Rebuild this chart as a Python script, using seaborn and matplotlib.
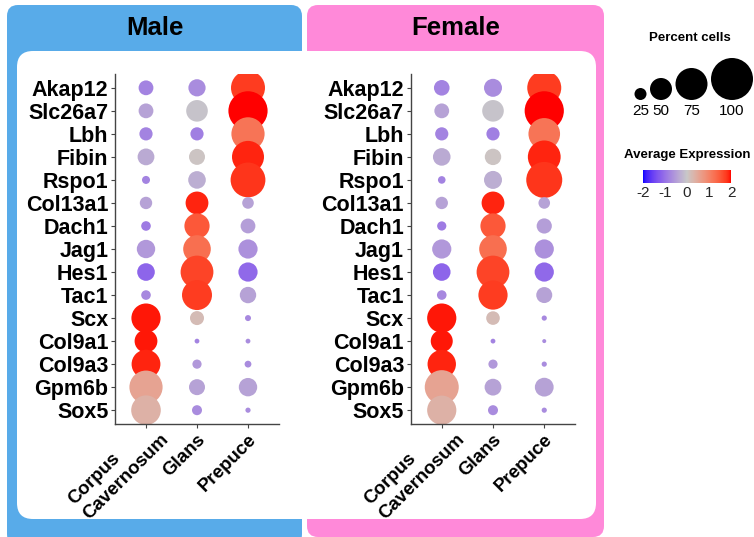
import numpy as np
import pandas as pd
import matplotlib
matplotlib.use("Agg")
import matplotlib.pyplot as plt
from matplotlib.colors import ListedColormap, Normalize
from matplotlib.patches import FancyBboxPatch
from matplotlib.transforms import ScaledTranslation
import matplotlib.cm as cm
import seaborn as sns

# ---------------------------------------------------------------- data
genes = ["Akap12", "Slc26a7", "Lbh", "Fibin", "Rspo1", "Col13a1", "Dach1",
         "Jag1", "Hes1", "Tac1", "Scx", "Col9a1", "Col9a3", "Gpm6b", "Sox5"]
tissues = ["Corpus\nCavernosum", "Glans", "Prepuce"]

# percent of cells expressing each gene (rows follow `genes`)
male_pct_corpus = [32, 32, 28, 37, 15, 26, 19, 41, 39, 19, 68, 52, 67, 78, 69]
male_pct_glans = [38, 49, 28, 35, 39, 52, 58, 64, 77, 70, 30, 7, 18, 35, 20]
male_pct_prepuce = [80, 93, 78, 75, 82, 24, 32, 43, 43, 36, 10, 7, 12, 41, 8]

female_pct_corpus = [34, 32, 28, 39, 14, 26, 18, 43, 39, 19, 68, 50, 66, 80, 68]
female_pct_glans = [40, 49, 28, 36, 40, 52, 58, 64, 77, 68, 29, 7, 18, 37, 20]
female_pct_prepuce = [80, 93, 74, 77, 85, 24, 33, 43, 43, 35, 8, 5, 8, 42, 8]

# scaled average expression
male_avg_corpus = [-0.8, -0.45, -0.8, -0.35, -0.8, -0.45, -0.9, -0.55, -1.15,
                   -0.75, 1.95, 1.95, 1.9, 0.55, 0.35]
male_avg_glans = [-0.7, -0.05, -0.85, 0.05, -0.3, 1.9, 1.5, 1.25, 1.7, 1.75,
                  0.2, -0.8, -0.55, -0.45, -0.7]
male_avg_prepuce = [1.75, 2.0, 1.2, 1.9, 1.8, -0.45, -0.5, -0.65, -1.1, -0.45,
                    -0.75, -0.7, -0.7, -0.45, -0.7]

female_avg_corpus = [-0.8, -0.45, -0.8, -0.35, -0.8, -0.45, -0.9, -0.55, -1.15,
                     -0.75, 1.95, 1.95, 1.9, 0.55, 0.35]
female_avg_glans = [-0.7, -0.05, -0.85, 0.05, -0.3, 1.9, 1.5, 1.25, 1.7, 1.75,
                    0.2, -0.8, -0.55, -0.45, -0.7]
female_avg_prepuce = [1.75, 2.0, 1.2, 1.9, 1.8, -0.45, -0.5, -0.65, -1.1, -0.45,
                      -0.75, -0.7, -0.7, -0.45, -0.7]

legend_pct = [25, 50, 75, 100]
colorbar_ticks = [-2, -1, 0, 1, 2]

# ---------------------------------------------------------------- helpers
W, H, DPI = 754, 537, 100


def fig_rect(x0, y0, x1, y1):
    """Pixel box (top-left origin) -> figure fraction rect."""
    return [x0 / W, 1 - y1 / H, (x1 - x0) / W, (y1 - y0) / H]


def dot_area(pct):
    """Marker area (pt^2) with diameter growing linearly with percent."""
    d_px = 2 + 0.4 * pct
    return (d_px * 72 / DPI) ** 2


def _srgb_to_lab(rgb):
    rgb = np.asarray(rgb, float)
    lin = np.where(rgb <= 0.04045, rgb / 12.92, ((rgb + 0.055) / 1.055) ** 2.4)
    M = np.array([[0.4124, 0.3576, 0.1805],
                  [0.2126, 0.7152, 0.0722],
                  [0.0193, 0.1192, 0.9505]])
    xyz = M @ lin / np.array([0.95047, 1.0, 1.08883])
    f = np.where(xyz > 216 / 24389, np.cbrt(xyz), (24389 / 27 * xyz + 16) / 116)
    return np.array([116 * f[1] - 16, 500 * (f[0] - f[1]), 200 * (f[1] - f[2])])


def _lab_to_srgb(lab):
    L, a, b = lab
    fy = (L + 16) / 116
    fx = fy + a / 500
    fz = fy - b / 200
    f = np.array([fx, fy, fz])
    xyz = np.where(f ** 3 > 216 / 24389, f ** 3, (116 * f - 16) / (24389 / 27))
    xyz = xyz * np.array([0.95047, 1.0, 1.08883])
    Minv = np.array([[3.2406, -1.5372, -0.4986],
                     [-0.9689, 1.8758, 0.0415],
                     [0.0557, -0.2040, 1.0570]])
    lin = np.clip(Minv @ xyz, 0, 1)
    rgb = np.where(lin <= 0.0031308, 12.92 * lin,
                   1.055 * lin ** (1 / 2.4) - 0.055)
    return np.clip(rgb, 0, 1)


def lab_diverging(low, mid, high, n=256):
    lo, mi, hi = (_srgb_to_lab(matplotlib.colors.to_rgb(c)) for c in (low, mid, high))
    cols = []
    for v in np.linspace(-1, 1, n):
        end = lo if v < 0 else hi
        cols.append(_lab_to_srgb(mi + abs(v) * (end - mi)))
    return ListedColormap(cols)


cmap = lab_diverging("blue", "#C8C8C8", "red")
norm = Normalize(-2, 2)


def long_table(pcts, avgs):
    rows = []
    for gi, g in enumerate(genes):
        for ti, t in enumerate(tissues):
            rows.append({"gene": g, "tissue": t,
                         "pct": pcts[ti][gi], "avg": avgs[ti][gi]})
    return pd.DataFrame(rows)


male = long_table([male_pct_corpus, male_pct_glans, male_pct_prepuce],
                  [male_avg_corpus, male_avg_glans, male_avg_prepuce])
female = long_table([female_pct_corpus, female_pct_glans, female_pct_prepuce],
                    [female_avg_corpus, female_avg_glans, female_avg_prepuce])

# ---------------------------------------------------------------- figure
sns.set_theme(style="white")
plt.rcParams["font.family"] = ["Liberation Sans", "DejaVu Sans"]
plt.rcParams["text.color"] = "black"

fig = plt.figure(figsize=(W / DPI, H / DPI), dpi=DPI)
fig.patch.set_facecolor("white")

bg = fig.add_axes([0, 0, 1, 1], zorder=0)
bg.set_xlim(0, W)
bg.set_ylim(H, 0)
bg.axis("off")

BLUE, PINK = "#58ABE9", "#FF89D9"
bg.add_patch(FancyBboxPatch((7, 5), 295, 540, boxstyle="round,pad=0,rounding_size=11",
                            fc=BLUE, ec="none"))
bg.add_patch(FancyBboxPatch((307, 5), 297, 532, boxstyle="round,pad=0,rounding_size=11",
                            fc=PINK, ec="none"))
bg.add_patch(FancyBboxPatch((17, 51), 579, 468, boxstyle="round,pad=0,rounding_size=16",
                            fc="white", ec="none"))
bg.text(154.5, 28, "Male", ha="center", va="center", fontsize=18.5,
        weight="bold", color="black")
bg.text(455.5, 28, "Female", ha="center", va="center", fontsize=18.5,
        weight="bold", color="black")

sizes = {p: dot_area(p) for p in sorted(set(male["pct"]) | set(female["pct"]))}


def dot_panel(df, rect):
    ax = fig.add_axes(rect, zorder=2)
    ax.patch.set_alpha(0)
    sns.scatterplot(data=df, x="tissue", y="gene", hue="avg", palette=cmap,
                    hue_norm=(-2, 2), size="pct", sizes=sizes, linewidth=0,
                    edgecolor="none", legend=False, ax=ax)
    ax.set_xlim(-0.6, len(tissues) - 0.4)
    ax.set_ylim(len(genes) - 0.4, -0.6)
    ax.set_xlabel("")
    ax.set_ylabel("")
    ax.grid(False)
    for side in ("top", "right"):
        ax.spines[side].set_visible(False)
    for side in ("left", "bottom"):
        ax.spines[side].set_color("#444444")
        ax.spines[side].set_linewidth(1.0)
    ax.tick_params(axis="both", length=3, width=0.8, color="#444444", pad=2,
                   left=True, bottom=True)
    ax.set_yticks(range(len(genes)))
    ax.set_yticklabels(genes, fontsize=15.5, weight="bold", color="black")
    ax.set_xticks(range(len(tissues)))
    ax.set_xticklabels(tissues, fontsize=13.5, weight="bold", color="black")
    for tl in ax.get_xticklabels():
        tl.set_rotation(45)
        tl.set_ha("right")
        tl.set_va("top")
        tl.set_rotation_mode("anchor")
        tl.set_multialignment("left")
        tl.set_linespacing(1.35)
    # two-line label sits a little higher along its tick
    first = ax.get_xticklabels()[0]
    first.set_transform(first.get_transform() +
                        ScaledTranslation(-1 / DPI, 15 / DPI, fig.dpi_scale_trans))
    return ax


dot_panel(male, fig_rect(115.4, 74, 278.6, 424))
dot_panel(female, fig_rect(411, 74, 575, 424))

# ---------------------------------------------------------------- legends
bg.text(690, 38, "Percent cells", ha="center", va="center", fontsize=9.5,
        weight="bold")
diam = [2 + 0.4 * p for p in legend_pct]
left = 634.5
cx = []
for d in diam:
    cx.append(left + d / 2)
    left += d + 3.5
cy = [100 - d / 2 for d in diam]
leg = pd.DataFrame({"x": cx, "y": cy, "pct": legend_pct})
sns.scatterplot(data=leg, x="x", y="y", size="pct",
                sizes={p: dot_area(p) for p in legend_pct}, color="black",
                linewidth=0, edgecolor="none", legend=False, ax=bg)
bg.set_xlim(0, W)
bg.set_ylim(H, 0)
bg.axis("off")
for x, p in zip(cx, legend_pct):
    bg.text(x, 111, str(p), ha="center", va="center", fontsize=11)

bg.text(687, 155, "Average Expression", ha="center", va="center", fontsize=9.5,
        weight="bold")
cax = fig.add_axes(fig_rect(643, 170, 731, 183), zorder=3)
cb = fig.colorbar(cm.ScalarMappable(norm=norm, cmap=cmap), cax=cax,
                  orientation="horizontal", ticks=colorbar_ticks)
cb.outline.set_visible(False)
cax.tick_params(length=0, pad=2, labelsize=11)
cax.set_xticklabels([str(t) for t in colorbar_ticks])

fig.savefig("out.png", dpi=DPI)
